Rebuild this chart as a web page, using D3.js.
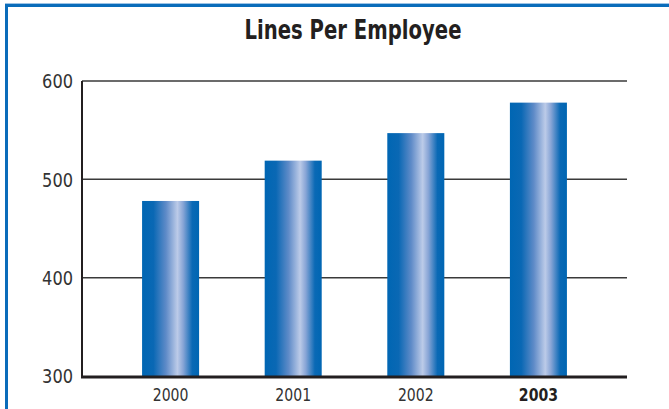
<!DOCTYPE html>
<html>
<head>
<meta charset="utf-8">
<script src="https://cdn.jsdelivr.net/npm/d3@7/dist/d3.min.js"></script>
<style>
  html, body { margin: 0; padding: 0; background: #fff; }
  svg { display: block; }
</style>
</head>
<body>
<div id="chart"></div>
<script>
// Chart data
const years = ['2000', '2001', '2002', '2003'];
const linesPerEmployee = [478, 519, 547, 578];
const yTicks = [300, 400, 500, 600];
const boldYear = '2003';

const width = 669;
const height = 409;
const margin = { top: 81, right: 42, bottom: 33, left: 82 };
const font = '"DejaVu Sans Condensed", "Liberation Sans Narrow", sans-serif';

const svg = d3.select('#chart')
    .append('svg')
    .attr('width', width)
    .attr('height', height);

// Bar gradient (dark blue edges, light highlight right of centre)
const grad = svg.append('defs')
    .append('linearGradient')
    .attr('id', 'barGrad')
    .attr('x1', '0%').attr('x2', '100%')
    .attr('y1', '0%').attr('y2', '0%');
[
    ['0%', '#0066b3'],
    ['20%', '#0a68b4'],
    ['42%', '#5f8bc8'],
    ['62%', '#bccbe8'],
    ['72%', '#88a5d6'],
    ['88%', '#0a69b5'],
    ['100%', '#0066b3']
].forEach(([o, c]) => grad.append('stop').attr('offset', o).attr('stop-color', c));

// Frame: blue top and left rules
svg.append('rect')
    .attr('x', 5).attr('y', 4)
    .attr('width', width - 5).attr('height', 3)
    .attr('fill', '#0a6cba');
svg.append('rect')
    .attr('x', 5).attr('y', 4)
    .attr('width', 3).attr('height', height - 4)
    .attr('fill', '#0a6cba');
svg.append('rect')
    .attr('x', 5).attr('y', 3)
    .attr('width', width - 5).attr('height', 1)
    .attr('fill', '#9cc3e6');

// Title (squeezed horizontally to mimic a condensed face)
svg.append('text')
    .attr('transform', 'translate(353,39) scale(0.84,1)')
    .attr('text-anchor', 'middle')
    .style('font-family', font)
    .style('font-size', '26px')
    .style('font-weight', 'bold')
    .style('fill', '#231f20')
    .text('Lines Per Employee');

const x = d3.scaleBand()
    .domain(years)
    .range([margin.left, width - margin.right])
    .paddingInner(0.535)
    .paddingOuter(0.49);

const y = d3.scaleLinear()
    .domain([300, 600])
    .range([height - margin.bottom, margin.top]);

// Gridlines
svg.append('g')
    .selectAll('line')
    .data(yTicks.filter(t => t !== 300))
    .join('line')
    .attr('x1', margin.left)
    .attr('x2', width - margin.right)
    .attr('y1', d => y(d))
    .attr('y2', d => y(d))
    .attr('stroke', '#3a3a3a')
    .attr('stroke-width', 1.5);

// Bars
svg.append('g')
    .selectAll('rect')
    .data(years.map((yr, i) => ({ year: yr, value: linesPerEmployee[i] })))
    .join('rect')
    .attr('x', d => x(d.year))
    .attr('width', x.bandwidth())
    .attr('y', d => y(d.value))
    .attr('height', d => y(300) - y(d.value))
    .attr('fill', 'url(#barGrad)');

// Y axis line
svg.append('line')
    .attr('x1', margin.left).attr('x2', margin.left)
    .attr('y1', y(600)).attr('y2', y(300))
    .attr('stroke', '#231f20')
    .attr('stroke-width', 2);

// X axis line (thick)
svg.append('line')
    .attr('x1', margin.left - 1).attr('x2', width - margin.right)
    .attr('y1', y(300) + 1).attr('y2', y(300) + 1)
    .attr('stroke', '#231f20')
    .attr('stroke-width', 3);

// Y tick labels
svg.append('g')
    .selectAll('text')
    .data(yTicks)
    .join('text')
    .attr('transform', d => `translate(${margin.left - 9},${y(d)}) scale(0.9,1)`)
    .attr('dy', '0.36em')
    .attr('text-anchor', 'end')
    .style('font-family', font)
    .style('font-size', '20px')
    .style('fill', '#333')
    .text(d => d);

// X tick labels
svg.append('g')
    .selectAll('text')
    .data(years)
    .join('text')
    .attr('transform', d => `translate(${x(d) + x.bandwidth() / 2},401) scale(0.92,1)`)
    .attr('text-anchor', 'middle')
    .style('font-family', font)
    .style('font-size', '17px')
    .style('font-weight', d => d === boldYear ? 'bold' : 'normal')
    .style('fill', d => d === boldYear ? '#231f20' : '#333')
    .text(d => d);
</script>
</body>
</html>
